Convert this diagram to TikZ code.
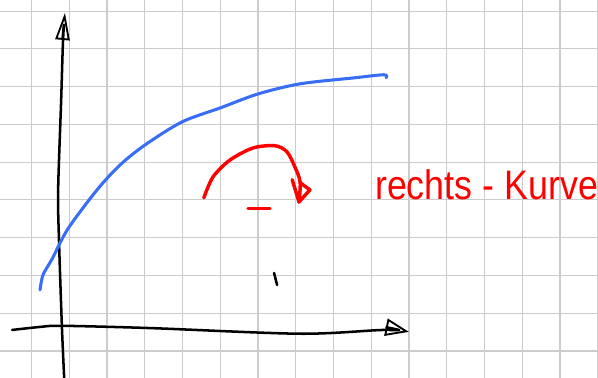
\documentclass[tikz,border=0pt]{standalone}
\usepackage{tikz}
\usepackage{xcolor}
\usepackage{fontspec}
\usetikzlibrary{arrows.meta}
\definecolor{penblue}{RGB}{55,110,245}
\definecolor{penred}{RGB}{255,0,0}
\newfontfamily\handfont{Liberation Sans}

\begin{document}
\begin{tikzpicture}[gridline/.style={black!20, line width=0.9pt}, axis/.style={line width=1.9pt, line cap=round, line join=round}, pen/.style={line width=2.3pt, line cap=round, line join=round}]
  \clip (0,0) rectangle (15.84,10.01); \draw[gridline, shift={(0.834,0.715)}] (-1,-1) grid (15.5,9.5);
  \draw[axis, -{Triangle[open, length=0.72cm, width=0.38cm, line width=1.4pt]}] plot[smooth] coordinates {(1.70,0) (1.64,1.35) (1.56,3.73) (1.54,4.98) (1.62,7.36) (1.67,8.95) (1.72,9.67)};
  \draw[axis, -{Triangle[open, length=0.62cm, width=0.46cm, line width=1.4pt]}] plot[smooth] coordinates {(0.32,1.27) (1.06,1.35) (1.64,1.38) (3.97,1.32) (7.95,1.17) (10.15,1.27) (10.83,1.22)};
  \draw[pen, penblue] plot[smooth] coordinates {(1.06,2.33) (1.14,2.73) (1.38,3.15) (1.80,3.95) (2.57,4.98) (3.18,5.64) (3.84,6.17) (4.82,6.78) (5.83,7.15) (6.83,7.52) (7.95,7.79) (9.40,7.95) (10.17,8.03) (10.23,7.95)};
  \draw[pen, penred, line width=2.6pt] plot[smooth] coordinates {(5.40,4.77) (5.64,5.32) (6.09,5.77) (6.70,6.09) (7.28,6.15) (7.60,5.99) (7.81,5.59) (7.95,5.19) (7.92,4.66)};
  \draw[pen, penred, line width=2.6pt] (7.74,5.25) -- (7.92,4.66) -- (8.21,4.98) -- (7.95,5.17);
  \draw[pen, penred, line width=2.6pt] (6.57,4.48) -- (7.15,4.48); \draw[axis] (7.26,2.78) -- (7.34,2.46);
  \node[text=penred, font=\handfont\fontsize{27}{27}\selectfont, anchor=base west, inner sep=0pt, yscale=1.15, transform shape] (kurve) at (9.93,4.72) {rechts - Kurve};
\end{tikzpicture}
\end{document}
